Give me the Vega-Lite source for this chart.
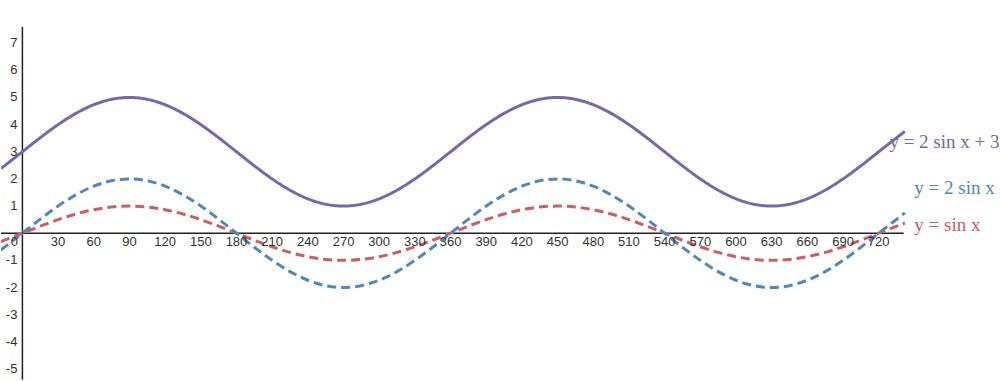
{
  "$schema": "https://vega.github.io/schema/vega-lite/v6.json",
  "width": 1000,
  "height": 381,
  "autosize": {"type": "fit", "contains": "padding"},
  "padding": 0,
  "background": "white",
  "config": {"view": {"stroke": null}},
  "datasets": {
    "curves": [
      {"x": -18, "a": -0.309, "b": -0.618, "c": 2.382},
      {"x": 0, "a": 0, "b": 0, "c": 3},
      {"x": 15, "a": 0.2588, "b": 0.5176, "c": 3.5176},
      {"x": 30, "a": 0.5, "b": 1, "c": 4},
      {"x": 45, "a": 0.7071, "b": 1.4142, "c": 4.4142},
      {"x": 60, "a": 0.866, "b": 1.732, "c": 4.732},
      {"x": 75, "a": 0.9659, "b": 1.9319, "c": 4.9319},
      {"x": 90, "a": 1, "b": 2, "c": 5},
      {"x": 105, "a": 0.9659, "b": 1.9319, "c": 4.9319},
      {"x": 120, "a": 0.866, "b": 1.732, "c": 4.732},
      {"x": 135, "a": 0.7071, "b": 1.4142, "c": 4.4142},
      {"x": 150, "a": 0.5, "b": 1, "c": 4},
      {"x": 165, "a": 0.2588, "b": 0.5176, "c": 3.5176},
      {"x": 180, "a": 0, "b": 0, "c": 3},
      {"x": 195, "a": -0.2588, "b": -0.5176, "c": 2.4824},
      {"x": 210, "a": -0.5, "b": -1, "c": 2},
      {"x": 225, "a": -0.7071, "b": -1.4142, "c": 1.5858},
      {"x": 240, "a": -0.866, "b": -1.732, "c": 1.268},
      {"x": 255, "a": -0.9659, "b": -1.9319, "c": 1.0681},
      {"x": 270, "a": -1, "b": -2, "c": 1},
      {"x": 285, "a": -0.9659, "b": -1.9319, "c": 1.0681},
      {"x": 300, "a": -0.866, "b": -1.732, "c": 1.268},
      {"x": 315, "a": -0.7071, "b": -1.4142, "c": 1.5858},
      {"x": 330, "a": -0.5, "b": -1, "c": 2},
      {"x": 345, "a": -0.2588, "b": -0.5176, "c": 2.4824},
      {"x": 360, "a": 0, "b": 0, "c": 3},
      {"x": 375, "a": 0.2588, "b": 0.5176, "c": 3.5176},
      {"x": 390, "a": 0.5, "b": 1, "c": 4},
      {"x": 405, "a": 0.7071, "b": 1.4142, "c": 4.4142},
      {"x": 420, "a": 0.866, "b": 1.732, "c": 4.732},
      {"x": 435, "a": 0.9659, "b": 1.9319, "c": 4.9319},
      {"x": 450, "a": 1, "b": 2, "c": 5},
      {"x": 465, "a": 0.9659, "b": 1.9319, "c": 4.9319},
      {"x": 480, "a": 0.866, "b": 1.732, "c": 4.732},
      {"x": 495, "a": 0.7071, "b": 1.4142, "c": 4.4142},
      {"x": 510, "a": 0.5, "b": 1, "c": 4},
      {"x": 525, "a": 0.2588, "b": 0.5176, "c": 3.5176},
      {"x": 540, "a": 0, "b": 0, "c": 3},
      {"x": 555, "a": -0.2588, "b": -0.5176, "c": 2.4824},
      {"x": 570, "a": -0.5, "b": -1, "c": 2},
      {"x": 585, "a": -0.7071, "b": -1.4142, "c": 1.5858},
      {"x": 600, "a": -0.866, "b": -1.732, "c": 1.268},
      {"x": 615, "a": -0.9659, "b": -1.9319, "c": 1.0681},
      {"x": 630, "a": -1, "b": -2, "c": 1},
      {"x": 645, "a": -0.9659, "b": -1.9319, "c": 1.0681},
      {"x": 660, "a": -0.866, "b": -1.732, "c": 1.268},
      {"x": 675, "a": -0.7071, "b": -1.4142, "c": 1.5858},
      {"x": 690, "a": -0.5, "b": -1, "c": 2},
      {"x": 705, "a": -0.2588, "b": -0.5176, "c": 2.4824},
      {"x": 720, "a": 0, "b": 0, "c": 3},
      {"x": 742, "a": 0.3746, "b": 0.7492, "c": 3.7492}
    ],
    "axes": [
      {"x": -18, "x2": 741, "y": 0, "y2": 0},
      {"x": 0, "x2": 0, "y": -5.4, "y2": 7.6}
    ],
    "xlabels": [
      {"x": -6.7, "label": "0"},
      {"x": 30, "label": "30"}, {"x": 60, "label": "60"}, {"x": 90, "label": "90"},
      {"x": 120, "label": "120"}, {"x": 150, "label": "150"}, {"x": 180, "label": "180"},
      {"x": 210, "label": "210"}, {"x": 240, "label": "240"}, {"x": 270, "label": "270"},
      {"x": 300, "label": "300"}, {"x": 330, "label": "330"}, {"x": 360, "label": "360"},
      {"x": 390, "label": "390"}, {"x": 420, "label": "420"}, {"x": 450, "label": "450"},
      {"x": 480, "label": "480"}, {"x": 510, "label": "510"}, {"x": 540, "label": "540"},
      {"x": 570, "label": "570"}, {"x": 600, "label": "600"}, {"x": 630, "label": "630"},
      {"x": 660, "label": "660"}, {"x": 690, "label": "690"}, {"x": 720, "label": "720"}
    ],
    "ylabels": [
      {"y": 7, "label": "7"}, {"y": 6, "label": "6"}, {"y": 5, "label": "5"},
      {"y": 4, "label": "4"}, {"y": 3, "label": "3"}, {"y": 2, "label": "2"},
      {"y": 1, "label": "1"}, {"y": -1, "label": "-1"}, {"y": -2, "label": "-2"},
      {"y": -3, "label": "-3"}, {"y": -4, "label": "-4"}, {"y": -5, "label": "-5"}
    ],
    "names": [
      {"x": 729, "y": 3.35, "series": "c", "label": "y = 2 sin x + 3"},
      {"x": 750, "y": 1.67, "series": "b", "label": "y = 2 sin x"},
      {"x": 750, "y": 0.31, "series": "a", "label": "y = sin x"}
    ]
  },
  "layer": [
    {
      "data": {"name": "axes"},
      "mark": {"type": "rule", "color": "#222222", "strokeWidth": 1.5},
      "encoding": {
        "x": {"field": "x", "type": "quantitative", "scale": {"domain": [-18, 822], "nice": false, "zero": false}, "axis": null},
        "x2": {"field": "x2"},
        "y": {"field": "y", "type": "quantitative", "scale": {"domain": [-5.37, 8.59], "nice": false, "zero": false}, "axis": null},
        "y2": {"field": "y2"}
      }
    },
    {
      "data": {"name": "curves"},
      "transform": [{"fold": ["a", "b", "c"], "as": ["series", "value"]}],
      "mark": {"type": "line", "strokeWidth": 3, "interpolate": "monotone", "clip": true},
      "encoding": {
        "x": {"field": "x", "type": "quantitative"},
        "y": {"field": "value", "type": "quantitative"},
        "color": {"field": "series", "type": "nominal", "scale": {"domain": ["a", "b", "c"], "range": ["#d25c5e", "#4c88c2", "#7866b0"]}, "legend": null},
        "strokeDash": {"field": "series", "type": "nominal", "scale": {"domain": ["a", "b", "c"], "range": [[9, 5], [9, 5], [1, 0]]}, "legend": null}
      }
    },
    {
      "data": {"name": "xlabels"},
      "mark": {"type": "text", "font": "Liberation Sans", "fontSize": 13, "color": "#333333", "baseline": "middle", "align": "center", "dy": 9},
      "encoding": {
        "x": {"field": "x", "type": "quantitative"},
        "y": {"datum": 0, "type": "quantitative"},
        "text": {"field": "label"}
      }
    },
    {
      "data": {"name": "ylabels"},
      "mark": {"type": "text", "font": "Liberation Sans", "fontSize": 13, "color": "#333333", "baseline": "middle", "align": "right", "dx": -5},
      "encoding": {
        "x": {"datum": 0, "type": "quantitative"},
        "y": {"field": "y", "type": "quantitative"},
        "text": {"field": "label"}
      }
    },
    {
      "data": {"name": "names"},
      "mark": {"type": "text", "font": "Liberation Serif", "fontSize": 19, "baseline": "middle", "align": "left"},
      "encoding": {
        "x": {"field": "x", "type": "quantitative"},
        "y": {"field": "y", "type": "quantitative"},
        "text": {"field": "label"},
        "color": {"field": "series", "type": "nominal", "legend": null}
      }
    }
  ]
}
